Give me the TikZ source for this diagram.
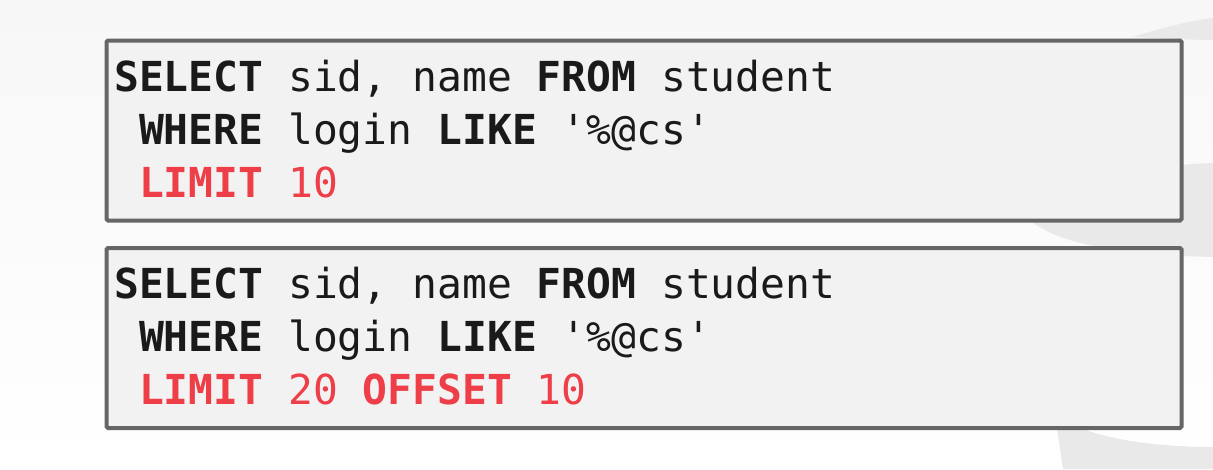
\documentclass[tikz,border=0pt]{standalone}
\usepackage{fontspec}
\setmonofont{DejaVu Sans Mono}
\definecolor{bgtop}{HTML}{F7F7F7}
\definecolor{wmark}{HTML}{E9E9E9}
\definecolor{boxfill}{HTML}{F2F2F2}
\definecolor{boxline}{HTML}{666666}
\definecolor{codeblack}{HTML}{1A1A1A}
\definecolor{codered}{HTML}{EE3E48}
\tikzset{
  codebox/.style={draw=boxline, fill=boxfill, line width=4pt, rounded corners=1.5pt},
  codeline/.style={anchor=base west, inner sep=0pt, text=codeblack,
    font=\fontsize{41.3}{50}\selectfont\ttfamily},
}
\newcommand{\kwb}[1]{\textbf{#1}}
\newcommand{\kwr}[1]{\textcolor{codered}{\textbf{#1}}}
\newcommand{\txr}[1]{\textcolor{codered}{#1}}
\begin{document}
\begin{tikzpicture}[x=1pt,y=-1pt]
  \useasboundingbox (0,0) rectangle (1213,469);
  % background
  \shade[top color=bgtop, bottom color=white] (0,0) rectangle (1213,469);
  % watermark shapes
  \fill[wmark] (1133,37) .. controls (1160,28) and (1190,21) .. (1213,18)
    -- (1213,40) .. controls (1190,40) and (1160,38) .. cycle;
  \fill[wmark] (1025,215) .. controls (1060,180) and (1150,165) .. (1213,163)
    -- (1213,257) .. controls (1130,255) and (1050,245) .. cycle;
  \fill[wmark] (1055,415) .. controls (1090,440) and (1160,447) .. (1213,447)
    -- (1213,469) -- (1063,469) -- cycle;
  % boxes
  \node[codebox, anchor=north west, minimum width=1075pt, minimum height=180pt, inner sep=0pt] (box1) at (104.5,38.5) {};
  \node[codebox, anchor=north west, minimum width=1075pt, minimum height=180pt, inner sep=0pt] (box2) at (104.5,246) {};
  % box 1 text
  \node[codeline] (l11) at (114,91) {\kwb{SELECT} sid, name \kwb{FROM} student};
  \node[codeline] (l12) at (114,144) {\ \kwb{WHERE} login \kwb{LIKE} '\%@cs'};
  \node[codeline] (l13) at (114,197) {\ \kwr{LIMIT} \txr{10}};
  % box 2 text
  \node[codeline] (l21) at (114,298) {\kwb{SELECT} sid, name \kwb{FROM} student};
  \node[codeline] (l22) at (114,351) {\ \kwb{WHERE} login \kwb{LIKE} '\%@cs'};
  \node[codeline] (l23) at (114,404) {\ \kwr{LIMIT} \txr{20} \kwr{OFFSET} \txr{10}};
\end{tikzpicture}
\end{document}
